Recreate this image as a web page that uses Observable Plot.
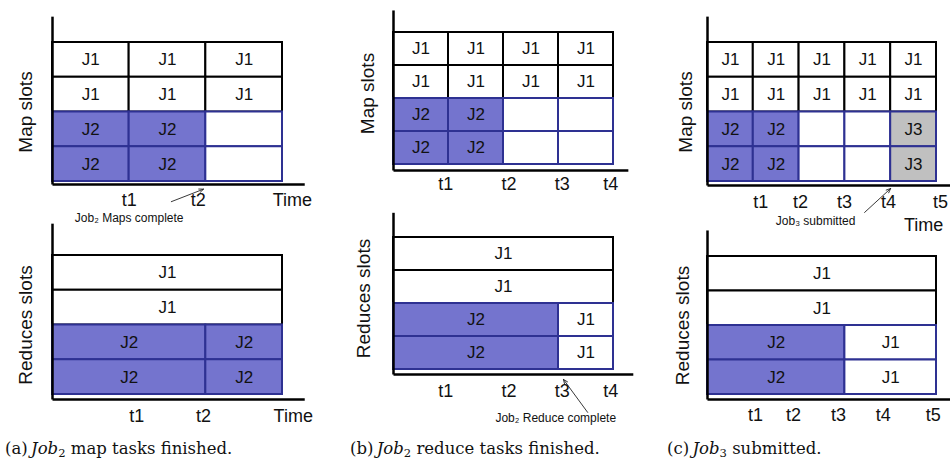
<!DOCTYPE html>
<html>
<head>
<meta charset="utf-8">
<script src="https://cdn.jsdelivr.net/npm/d3@7"></script>
<script src="https://cdn.jsdelivr.net/npm/@observablehq/plot@0.6"></script>
<style>
  html, body { margin: 0; padding: 0; background: #fff; }
  #fig { position: relative; width: 950px; height: 466px; overflow: hidden; background: #fff; }
  #fig svg { position: absolute; }
  .cap { position: absolute; font-family: "DejaVu Serif", "Liberation Serif", serif; font-size: 16.5px; line-height: 20px; color: #111; white-space: nowrap; }
  .cap sub { font-size: 70%; vertical-align: -3px; line-height: 0; }
</style>
</head>
<body>
<div id="fig"></div>
<script>
// Map-slot grids: one job per time step, rows listed top to bottom ("" = idle slot)
const mapA = [
  ["J1", "J1", "J1"],
  ["J1", "J1", "J1"],
  ["J2", "J2", ""],
  ["J2", "J2", ""]
];
const mapB = [
  ["J1", "J1", "J1", "J1"],
  ["J1", "J1", "J1", "J1"],
  ["J2", "J2", "", ""],
  ["J2", "J2", "", ""]
];
const mapC = [
  ["J1", "J1", "J1", "J1", "J1"],
  ["J1", "J1", "J1", "J1", "J1"],
  ["J2", "J2", "", "", "J3"],
  ["J2", "J2", "", "", "J3"]
];

// Reduce-slot rows: [job, start, end] spans, rows listed top to bottom
const reduceA = [
  [["J1", 0, 3]],
  [["J1", 0, 3]],
  [["J2", 0, 2], ["J2", 2, 3]],
  [["J2", 0, 2], ["J2", 2, 3]]
];
const reduceB = [
  [["J1", 0, 4]],
  [["J1", 0, 4]],
  [["J2", 0, 3], ["J1", 3, 4]],
  [["J2", 0, 3], ["J1", 3, 4]]
];
const reduceC = [
  [["J1", 0, 5]],
  [["J1", 0, 5]],
  [["J2", 0, 3], ["J1", 3, 5]],
  [["J2", 0, 3], ["J1", 3, 5]]
];

// Time tick labels and their positions on each time axis
const tickNamesA = ["t1", "t2"];
const tickPosMapA = [1.0, 1.9];
const tickPosReduceA = [1.1, 1.97];
const tickNamesB = ["t1", "t2", "t3", "t4"];
const tickPosB = [0.95, 2.1, 3.07, 3.95];
const tickNamesC = ["t1", "t2", "t3", "t4", "t5"];
const tickPosMapC = [1.16, 2.03, 2.99, 3.95, 5.09];
const tickPosReduceC = [1.05, 1.88, 2.86, 3.84, 4.93];

// Event annotations
const noteA = "Job₂ Maps complete";
const noteB = "Job₂ Reduce complete";
const noteC = "Job₃ submitted";

const SANS = "'Liberation Sans', Arial, Helvetica, sans-serif";
const NAVY = "#2e3192";
const FILL = {J2: "#7474ce", J3: "#c0c0c0"};

const gridCells = grid => grid.flatMap((row, r) =>
  row.map((job, c) => ({job, r, x1: c, x2: c + 1, y1: 3 - r, y2: 4 - r})));
const spanCells = rows => rows.flatMap((row, r) =>
  row.map(([job, s, e]) => ({job, r, x1: s, x2: e, y1: 3 - r, y2: 4 - r})));

const fig = document.getElementById("fig");
let markerId = 0;

function panel(cfg) {
  const cells = cfg.cells;
  const ticks = cfg.tickNames.map((name, i) => ({name, t: cfg.tickPos[i]}));
  const marks = [
    // job cells: plain rows first, then the outlined lower rows on top
    Plot.rect(cells.filter(d => d.r < 2), {
      x1: "x1", x2: "x2", y1: "y1", y2: "y2",
      fill: d => FILL[d.job] || "white", stroke: "black", strokeWidth: 2
    }),
    Plot.rect(cells.filter(d => d.r >= 2), {
      x1: "x1", x2: "x2", y1: "y1", y2: "y2",
      fill: d => FILL[d.job] || "white", stroke: NAVY, strokeWidth: 2
    }),
    Plot.text(cells.filter(d => d.job), {
      x: d => (d.x1 + d.x2) / 2, y: d => (d.y1 + d.y2) / 2,
      text: "job", fontSize: 17, fill: "#111"
    }),
    // axes with arrowheads
    Plot.link([
      {x1: 0, y1: 0, x2: cfg.axisX, y2: 0},
      {x1: 0, y1: 0, x2: 0, y2: cfg.axisY}
    ], {
      x1: "x1", y1: "y1", x2: "x2", y2: "y2", dy: cfg.axisDy,
      stroke: "black", strokeWidth: 2.5, ariaLabel: "axis-line"
    }),
    // time tick labels
    Plot.text(ticks, {x: "t", text: "name", frameAnchor: "bottom", dy: cfg.tickDy, fontSize: 18, fill: "#111"}),
    // slot axis title
    Plot.text([cfg.ylabel], {
      text: d => d, frameAnchor: "left", rotate: -90, textAnchor: "middle",
      dx: cfg.ylabelDx, dy: cfg.ylabelDy || 0, fontSize: 19, fill: "#111"
    })
  ];
  if (cfg.timeLabel) {
    marks.push(Plot.text([cfg.timeLabel], {
      x: d => d.t, text: () => "Time", frameAnchor: "bottom", dy: cfg.timeLabel.dy, fontSize: 18, fill: "#111"
    }));
  }
  if (cfg.note) {
    marks.push(Plot.text([cfg.note], {
      x: d => d.x, text: d => d.text, frameAnchor: "bottom", dy: cfg.note.dy, fontSize: 12, fill: "#111"
    }));
    marks.push(Plot.arrow([cfg.note], {
      x1: d => d.ax1, y1: d => d.ay1, x2: d => d.ax2, y2: d => d.ay2,
      stroke: "#222", strokeWidth: 0.9, headLength: 8, headAngle: 45
    }));
  }
  const svg = Plot.plot({
    width: cfg.w, height: cfg.h,
    marginLeft: cfg.mL, marginRight: cfg.mR, marginTop: cfg.mT, marginBottom: cfg.mB,
    x: {domain: [0, cfg.cols], axis: null},
    y: {domain: [0, 4], axis: null},
    style: {fontFamily: SANS, background: "transparent", overflow: "visible", color: "#111"},
    marks
  });
  // filled triangular heads for the axis lines
  const id = "axis-head-" + (markerId++);
  const s = d3.select(svg);
  s.insert("defs", ":first-child")
    .append("marker")
    .attr("id", id).attr("viewBox", "0 0 10 10").attr("refX", 3).attr("refY", 5)
    .attr("markerWidth", 3.4).attr("markerHeight", 2.8).attr("orient", "auto")
    .append("path").attr("d", "M0,0L10,5L0,10Z").attr("fill", "black");
  s.selectAll('g[aria-label="axis-line"] path').attr("marker-end", `url(#${id})`);
  svg.style.left = cfg.left + "px";
  svg.style.top = cfg.top + "px";
  svg.style.maxWidth = "none";
  fig.appendChild(svg);
}

// (a) map slots
panel({
  left: 0, top: 0, w: 320, h: 230, mL: 52, mR: 38, mT: 42, mB: 49, cols: 3,
  cells: gridCells(mapA), axisX: 3.29, axisY: 4.83, axisDy: 3,
  tickNames: tickNamesA, tickPos: tickPosMapA, tickDy: 24,
  timeLabel: {t: 3.13, dy: 24},
  ylabel: "Map slots", ylabelDx: -27,
  note: {text: noteA, x: 1.0, dy: 40, ax1: 1.55, ay1: -0.58, ax2: 1.97, ay2: -0.22}
});
// (a) reduce slots
panel({
  left: 0, top: 215, w: 320, h: 230, mL: 52, mR: 38, mT: 40, mB: 51, cols: 3,
  cells: spanCells(reduceA), axisX: 3.29, axisY: 5.06, axisDy: 5,
  tickNames: tickNamesA, tickPos: tickPosReduceA, tickDy: 27,
  timeLabel: {t: 3.14, dy: 27},
  ylabel: "Reduces slots", ylabelDx: -27
});
// (b) map slots
panel({
  left: 320, top: 0, w: 320, h: 230, mL: 73, mR: 27, mT: 32, mB: 66, cols: 4,
  cells: gridCells(mapB), axisX: 4.27, axisY: 4.85, axisDy: 6,
  tickNames: tickNamesB, tickPos: tickPosB, tickDy: 25,
  ylabel: "Map slots", ylabelDx: -26, ylabelDy: -5
});
// (b) reduce slots
panel({
  left: 320, top: 200, w: 320, h: 245, mL: 73, mR: 27, mT: 37, mB: 76, cols: 4,
  cells: spanCells(reduceB), axisX: 4.36, axisY: 4.9, axisDy: 5,
  tickNames: tickNamesB, tickPos: tickPosB, tickDy: 27,
  ylabel: "Reduces slots", ylabelDx: -30, ylabelDy: -5,
  note: {text: noteB, x: 2.95, dy: 52, ax1: 3.53, ay1: -1.3, ax2: 3.09, ay2: -0.3}
});
// (c) map slots
panel({
  left: 640, top: 0, w: 310, h: 240, mL: 67, mR: 14, mT: 42, mB: 59, cols: 5,
  cells: gridCells(mapC), axisX: 5.41, axisY: 4.86, axisDy: 4,
  tickNames: tickNamesC, tickPos: tickPosMapC, tickDy: 26,
  timeLabel: {t: 4.72, dy: 49},
  ylabel: "Map slots", ylabelDx: -22,
  note: {text: noteC, x: 2.36, dy: 43, ax1: 3.43, ay1: -0.89, ax2: 4.0, ay2: -0.2}
});
// (c) reduce slots
panel({
  left: 640, top: 215, w: 310, h: 230, mL: 67, mR: 14, mT: 41, mB: 51, cols: 5,
  cells: spanCells(reduceC), axisX: 5.41, axisY: 4.9, axisDy: 5,
  tickNames: tickNamesC, tickPos: tickPosReduceC, tickDy: 26,
  ylabel: "Reduces slots", ylabelDx: -25
});

// sub-figure captions
const captions = [
  {left: 5, html: "(a)&#8201;<i>Job</i><sub>2</sub> map tasks finished."},
  {left: 350, html: "(b)&#8201;<i>Job</i><sub>2</sub> reduce tasks finished."},
  {left: 667, html: "(c)&#8201;<i>Job</i><sub>3</sub> submitted."}
];
for (const c of captions) {
  const div = document.createElement("div");
  div.className = "cap";
  div.style.left = c.left + "px";
  div.style.top = "439px";
  div.innerHTML = c.html;
  fig.appendChild(div);
}
</script>
</body>
</html>
